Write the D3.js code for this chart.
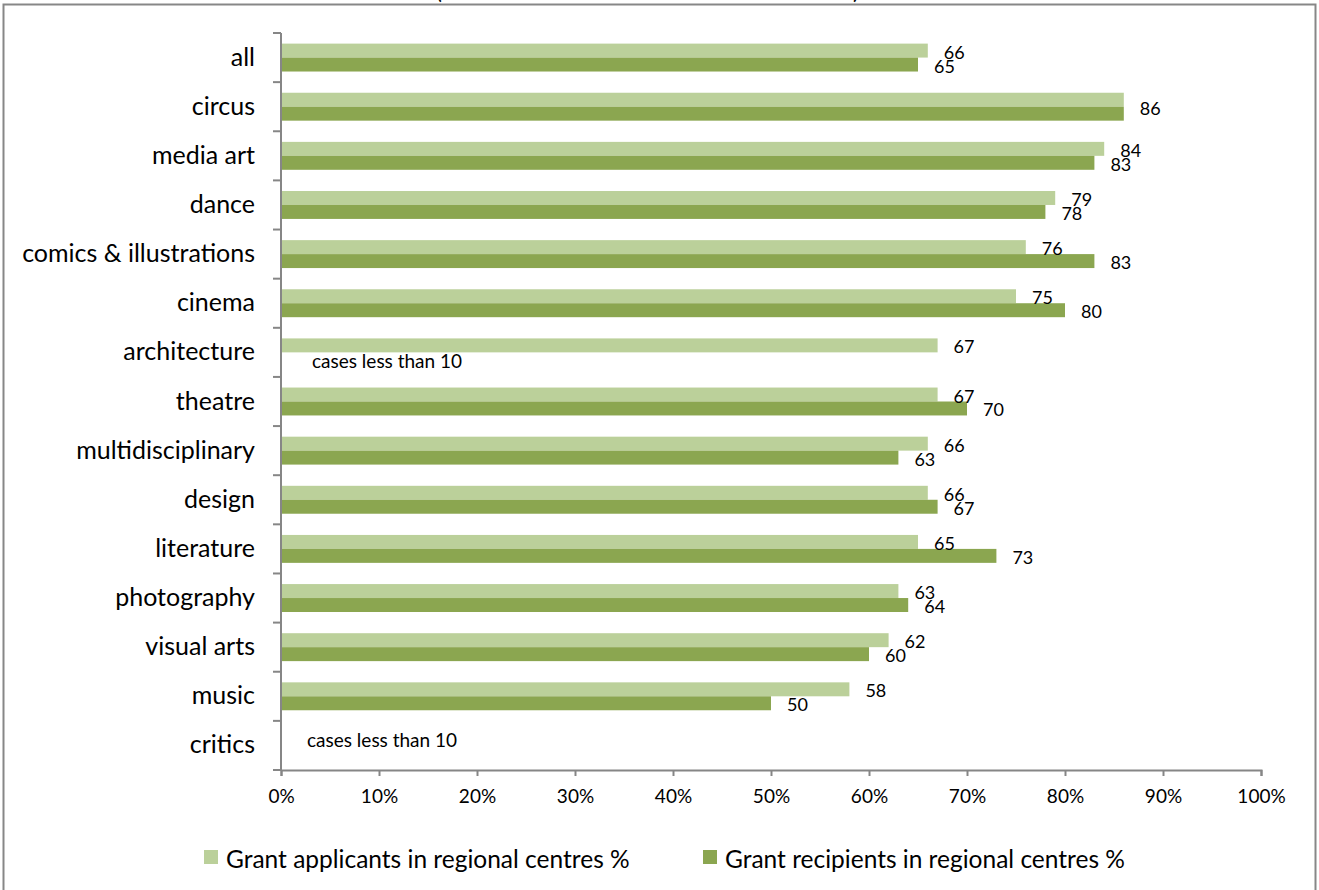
<!DOCTYPE html>
<html>
<head>
<meta charset="utf-8">
<script src="https://cdn.jsdelivr.net/npm/d3@7"></script>
<style>
  html, body { margin: 0; padding: 0; background: #fff; }
  svg { display: block; }
  text { font-family: Lato, "Open Sans", sans-serif; fill: #000; }
</style>
</head>
<body>
<svg id="chart" width="1319" height="890"></svg>
<script>
// ---- data ----
const categories = ["all", "circus", "media art", "dance", "comics & illustrations", "cinema",
  "architecture", "theatre", "multidisciplinary", "design", "literature", "photography",
  "visual arts", "music", "critics"];
const applicants = [66, 86, 84, 79, 76, 75, 67, 67, 66, 66, 65, 63, 62, 58, null];
const recipients = [65, 86, 83, 78, 83, 80, null, 70, 63, 67, 73, 64, 60, 50, null];
const seriesNames = ["Grant applicants in regional centres %", "Grant recipients in regional centres %"];
const xTicks = [0, 10, 20, 30, 40, 50, 60, 70, 80, 90, 100];
const notes = [
  { category: "architecture", series: 1, text: "cases less than 10" },
  { category: "critics", series: 0, text: "cases less than 10" }
];

// ---- layout ----
const colors = ["#BBD09A", "#8BA650"];
const svg = d3.select("#chart");
const margin = { left: 281, top: 33 };
const plotRight = 1261, plotBottom = 770;

// outer frame
svg.append("rect").attr("x", 3.5).attr("y", 4.5).attr("width", 1312).attr("height", 920)
  .attr("fill", "none").attr("stroke", "#878787").attr("stroke-width", 2);

// cut-off title parentheses
const titleG = svg.append("g").attr("font-size", 22);
titleG.append("text").attr("x", 436).attr("y", -1).text("(");
titleG.append("text").attr("x", 853).attr("y", -1).text(")");

const x = d3.scaleLinear().domain([0, 100]).range([margin.left, plotRight]);
const y = d3.scaleBand().domain(categories).range([margin.top, plotBottom]).padding(0);
const ySub = d3.scaleBand().domain([0, 1]).range([0, y.bandwidth()]).paddingInner(0).paddingOuter(0.76);

const rows = categories.map((c, i) => ({ c, vals: [applicants[i], recipients[i]] }));

// bars
const g = svg.append("g");
rows.forEach(r => {
  r.vals.forEach((v, s) => {
    if (v == null) return;
    g.append("rect")
      .attr("x", x(0))
      .attr("y", y(r.c) + ySub(s))
      .attr("width", x(v) - x(0))
      .attr("height", ySub.bandwidth())
      .attr("fill", colors[s]);
  });
});

// value labels
const lg = svg.append("g").attr("font-size", 18);
rows.forEach(r => {
  const [a, b] = r.vals;
  if (a != null && b != null && a === b) {
    lg.append("text").attr("x", x(a) + 16)
      .attr("y", y(r.c) + y.bandwidth() / 2 + 1)
      .attr("dominant-baseline", "central").text(a);
    return;
  }
  r.vals.forEach((v, s) => {
    if (v == null) return;
    lg.append("text").attr("x", x(v) + 16)
      .attr("y", y(r.c) + ySub(s) + ySub.bandwidth() / 2 + 1)
      .attr("dominant-baseline", "central").text(v);
  });
});

// notes
const ng = svg.append("g").attr("font-size", 19);
notes.forEach(n => {
  ng.append("text").attr("x", x(0) + (n.series === 1 ? 31 : 26))
    .attr("y", y(n.category) + ySub(n.series) + ySub.bandwidth() / 2 + 1)
    .attr("dominant-baseline", "central").text(n.text);
});

// y axis
const yAxis = d3.axisLeft(y).tickSize(0).tickPadding(26);
const ya = svg.append("g").attr("transform", `translate(${margin.left},0)`).call(yAxis);
ya.select(".domain").remove();
ya.selectAll("text").attr("font-size", 25).attr("font-family", "Lato, sans-serif").attr("fill", "#000");
// category boundary ticks
const bounds = categories.map(c => y(c)).concat([plotBottom]);
svg.append("g").selectAll("line").data(bounds).join("line")
  .attr("x1", margin.left - 8).attr("x2", margin.left)
  .attr("y1", d => d).attr("y2", d => d)
  .attr("stroke", "#868686").attr("stroke-width", 2);
svg.append("line").attr("x1", margin.left).attr("x2", margin.left)
  .attr("y1", margin.top).attr("y2", plotBottom)
  .attr("stroke", "#868686").attr("stroke-width", 2);

// x axis
const xAxis = d3.axisBottom(x).tickValues(xTicks).tickFormat(d => d + "%").tickSize(6).tickPadding(14);
const xa = svg.append("g").attr("transform", `translate(0,${plotBottom})`).call(xAxis);
xa.select(".domain").attr("stroke", "#868686").attr("stroke-width", 2);
xa.selectAll(".tick line").attr("stroke", "#868686").attr("stroke-width", 2);
xa.selectAll("text").attr("font-size", 19).attr("font-family", "Lato, sans-serif").attr("fill", "#000");

// legend
const legendX = [204, 703];
const leg = svg.append("g");
seriesNames.forEach((name, i) => {
  leg.append("rect").attr("x", legendX[i]).attr("y", 850).attr("width", 14).attr("height", 14).attr("fill", colors[i]);
  leg.append("text").attr("x", legendX[i] + 22).attr("y", 858)
    .attr("dominant-baseline", "central").attr("font-size", 24.5).text(name);
});
</script>
</body>
</html>
